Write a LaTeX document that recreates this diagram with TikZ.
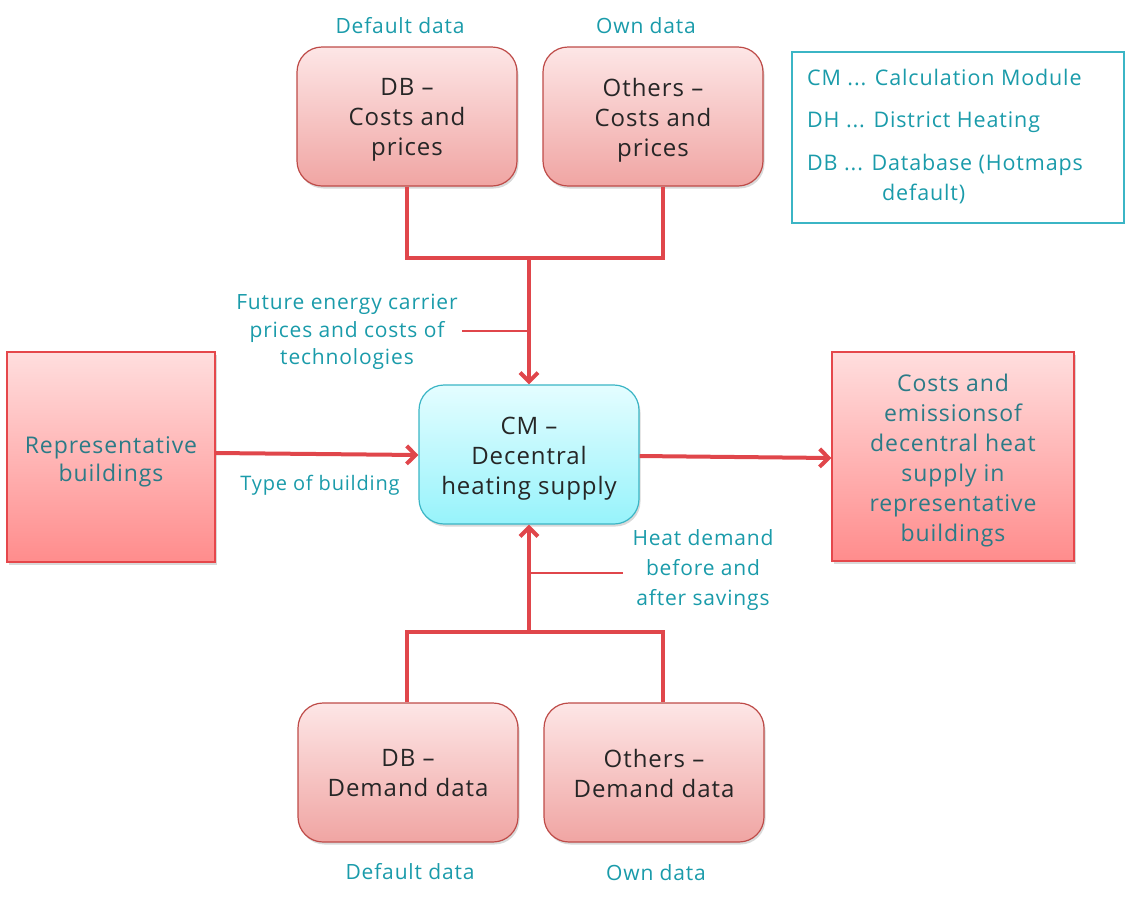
\documentclass[tikz,border=0pt]{standalone}
\usepackage{fontspec}
\setmainfont[LetterSpace=4]{Open Sans}
\usetikzlibrary{arrows.meta,shadows,calc}
\definecolor{rtop}{HTML}{FDE6E6}
\definecolor{rbot}{HTML}{F0A5A3}
\definecolor{rbord}{HTML}{BE4B48}
\definecolor{stop}{HTML}{FFDEDE}
\definecolor{sbot}{HTML}{FF8C8C}
\definecolor{sbord}{HTML}{E5474B}
\definecolor{ctop}{HTML}{E4FDFF}
\definecolor{cbot}{HTML}{97F3FB}
\definecolor{cbord}{HTML}{3BB5C5}
\definecolor{lbl}{HTML}{1A9BAA}
\definecolor{dteal}{HTML}{2B7B87}
\definecolor{linered}{HTML}{E0464B}
\definecolor{txt}{HTML}{262626}
\tikzset{
  x=1pt,y=-1pt,
  sh/.style={drop shadow={shadow xshift=1.5pt,shadow yshift=-2.5pt,opacity=0.25,fill=black!60}},
  databox/.style={rectangle,rounded corners=25pt,draw=rbord,line width=1.2pt,top color=rtop,bottom color=rbot,
    minimum width=220pt,minimum height=139pt,sh},
  cmbox/.style={rectangle,rounded corners=25pt,draw=cbord,line width=1.2pt,top color=ctop,bottom color=cbot,
    minimum width=220pt,minimum height=139pt,sh},
  sqbox/.style={rectangle,draw=sbord,line width=1.2pt,top color=stop,bottom color=sbot,sh},
  boxtxt/.style={align=center,text=txt,inner sep=0pt,font=\fontsize{24}{30}\selectfont},
  sqtxt/.style={align=center,text=dteal,inner sep=0pt,font=\fontsize{23}{30}\selectfont},
  lab/.style={text=lbl,align=center,font=\fontsize{21}{28}\selectfont,inner sep=0pt},
  leg/.style={text=lbl,anchor=west,font=\fontsize{21.5}{24}\selectfont,inner sep=0pt},
  conn/.style={draw=linered,line width=4pt},
  arr/.style={conn,-{Straight Barb[length=9pt,width=18pt]}},
  annot/.style={draw=linered,line width=1.4pt},
}
\begin{document}
\begin{tikzpicture}
\useasboundingbox (0,0) rectangle (1126,898);
% top data boxes
\node[databox] (dbc) at (407,116.5) {};
\node[boxtxt] (dbct) at (407,120) {DB –\\Costs and\\prices};
\node[databox] (othc) at (653,116.5) {};
\node[boxtxt] (othct) at (653,120) {Others –\\Costs and\\prices};
\node[lab] (dlt) at (400,26) {Default data};
\node[lab] (olt) at (646,26) {Own data};
% legend
\node[draw=cbord,line width=1.2pt,minimum width=332pt,minimum height=171pt] (legend) at (958,137.5) {};
\node[leg] (l1) at (807,77) {CM ... Calculation Module};
\node[leg] (l2) at (807,122) {DH ... District Heating};
\node[leg] (l3) at (807,165) {DB ... Database (Hotmaps};
\node[leg] (l4) at (882,194) {default)};
% central module
\node[cmbox] (cm) at (529,454.5) {};
\node[boxtxt] (cmt) at (529,459) {CM –\\Decentral\\heating supply};
% side boxes
\node[sqbox,minimum width=208pt,minimum height=210pt] (rep) at (111,457) {};
\node[sqtxt,font=\fontsize{23}{28}\selectfont] (rept) at (111,462) {Representative\\buildings};
\node[sqbox,minimum width=242pt,minimum height=209pt] (res) at (953,456.5) {};
\node[sqtxt] (rest) at (953,461) {Costs and\\emissionsof\\decentral heat\\supply in\\representative\\buildings};
% bottom data boxes
\node[databox] (dbd) at (408,772.5) {};
\node[boxtxt] (dbdt) at (408,773.5) {DB –\\Demand data};
\node[databox] (othd) at (654,772.5) {};
\node[boxtxt] (othdt) at (654,773.5) {Others –\\Demand data};
\node[lab] (dlb) at (410,872) {Default data};
\node[lab] (olb) at (656,873) {Own data};
% labels
\node[lab,font=\fontsize{21}{27.5}\selectfont] (fut) at (347,332) {Future energy carrier\\prices and costs of\\technologies};
\node[lab,font=\fontsize{20}{27}\selectfont] (tob) at (320,485) {Type of building};
\node[lab,font=\fontsize{21}{30}\selectfont] (hd) at (703,570) {Heat demand\\before and\\after savings};
% connectors top
\coordinate (jt) at (529,258);
\draw[conn] (dbc.south) |- (jt) -| ([xshift=10pt]othc.south);
\draw[arr] (jt) -- (cm.north);
\coordinate (a1) at (462,331);
\draw[annot] (a1) -- (a1 -| cm.north);
% connectors bottom
\coordinate (jb) at (529,632);
\draw[conn] ([xshift=-1pt]dbd.north) |- (jb) -| ([xshift=9pt]othd.north);
\draw[arr] (jb) -- (cm.south);
\coordinate (a2) at (623,573);
\draw[annot] (a2) -- (a2 -| cm.south);
% side arrows
\draw[arr] (rep.east |- 0,453) -- (cm.west |- 0,455);
\draw[arr] (cm.east |- 0,456) -- (res.west |- 0,458);
\end{tikzpicture}
\end{document}
